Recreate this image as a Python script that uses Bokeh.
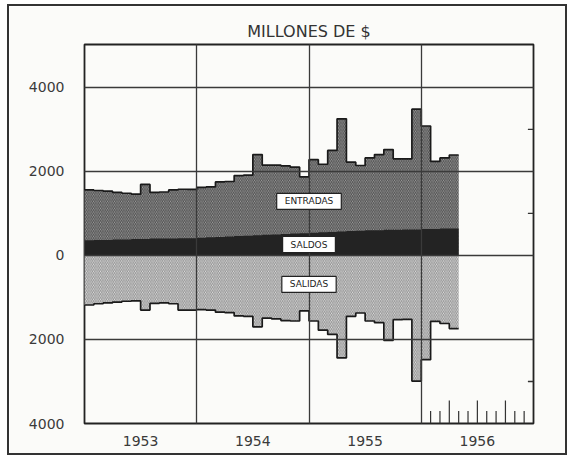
from bokeh.plotting import figure
from bokeh.models import FixedTicker, Label, Range1d
from bokeh.embed import file_html
from bokeh.resources import INLINE

# ---- data (millions of $, monthly Jan 1953 - Apr 1956) ----
start_year = 1953
entradas = [1560, 1545, 1530, 1500, 1480, 1460, 1690, 1500, 1510, 1560, 1575, 1570,
            1620, 1630, 1750, 1760, 1900, 1910, 2400, 2150, 2150, 2130, 2100, 1870,
            2280, 2170, 2500, 3250, 2220, 2140, 2320, 2400, 2520, 2300, 2300, 3480,
            3080, 2240, 2320, 2390]
salidas = [1180, 1150, 1130, 1110, 1090, 1080, 1300, 1140, 1130, 1150, 1300, 1300,
           1290, 1300, 1350, 1360, 1440, 1450, 1700, 1490, 1510, 1550, 1560, 1320,
           1560, 1780, 1880, 2440, 1450, 1370, 1560, 1600, 2020, 1530, 1520, 2990,
           2480, 1570, 1620, 1740]
saldos = [360, 370, 370, 380, 380, 390, 390, 400, 400, 400, 410, 410,
          420, 430, 440, 450, 460, 470, 480, 490, 500, 510, 520, 530,
          540, 550, 560, 570, 580, 590, 600, 600, 610, 610, 620, 620,
          630, 630, 640, 640]

year_ticks = [1953.5, 1954.5, 1955.5, 1956.5]
year_labels = ["1953", "1954", "1955", "1956"]
year_grid = [1954, 1955, 1956]
y_ticks = [-4000, -2000, 0, 2000, 4000]
y_tick_labels = ["4000", "2000", "0", "2000", "4000"]
y_grid = [-2000, 0, 2000, 4000]
right_marks = [3000, 1000, -3000]
bottom_mark_months = [1, 2, 3, 4, 5, 6, 7, 8, 9, 10, 11]
bottom_mark_len = [300, 300, 550, 300, 300, 550, 300, 300, 550, 300, 300]

series_labels = ["ENTRADAS", "SALDOS", "SALIDAS"]
label_y = [1285, 260, -690]

# ---- derived step coordinates ----
n = len(entradas)
x = [start_year + i / 12 for i in range(n + 1)]
ent = entradas + [entradas[-1]]
sal = [-v for v in salidas] + [-salidas[-1]]
sdo = saldos + [saldos[-1]]
zero = [0] * (n + 1)

bg = "#fbfbf9"
p = figure(frame_width=449, frame_height=379,
           min_border_left=75, min_border_right=32, min_border_top=38, min_border_bottom=30,
           output_backend="svg", toolbar_location=None,
           x_range=Range1d(1953, 1957), y_range=Range1d(-4000, 5020),
           background_fill_color=bg, border_fill_color=bg)
p.styles = {"border": "2px solid #333", "margin-left": "7px", "margin-top": "4px"}

p.title.text = "MILLONES DE $"
p.title.align = "center"
p.title.text_font = "DejaVu Sans"
p.title.text_font_size = "16px"
p.title.text_font_style = "normal"
p.title.text_color = "#333333"
p.title.standoff = 8

# areas
p.varea_step(x=x, y1=zero, y2=ent, step_mode="after", fill_color="#a4a4a4",
             hatch_pattern="\\", hatch_color="#4a4a4a", hatch_scale=3.5, hatch_weight=1.0)
p.varea_step(x=x, y1=sal, y2=zero, step_mode="after", fill_color="#e4e4e4",
             hatch_pattern="\\", hatch_color="#8e8e8e", hatch_scale=3.5, hatch_weight=1.0)
p.varea_step(x=x, y1=zero, y2=sdo, step_mode="after", fill_color="#232323")
p.step(x=x, y=ent, mode="after", line_color="#1a1a1a", line_width=1.7)
p.step(x=x, y=sal, mode="after", line_color="#1a1a1a", line_width=1.7)

# small marks
p.segment(x0=[1956.95] * len(right_marks), x1=[1957] * len(right_marks),
          y0=right_marks, y1=right_marks, line_color="#333", line_width=1.3)
bx = [1956 + m / 12 for m in bottom_mark_months]
p.segment(x0=bx, x1=bx, y0=[-4000] * len(bx), y1=[-4000 + h for h in bottom_mark_len],
          line_color="#333", line_width=1.2)

# labels
for t, yy in zip(series_labels, label_y):
    p.add_layout(Label(x=1955.0, y=yy, text=t, text_align="center", text_baseline="middle",
                       text_font="DejaVu Sans", text_font_size="9px", text_font_style="normal",
                       text_color="#222", background_fill_color="white",
                       border_line_color="#222", border_line_width=1.2, padding=(8, 3)))

# axes & grid
p.xaxis.ticker = FixedTicker(ticks=year_ticks)
p.xaxis.major_label_overrides = {k: v for k, v in zip(year_ticks, year_labels)}
p.yaxis.ticker = FixedTicker(ticks=y_ticks)
p.yaxis.major_label_overrides = {k: v for k, v in zip(y_ticks, y_tick_labels)}
for ax in (p.xaxis[0], p.yaxis[0]):
    ax.axis_line_color = None
    ax.major_tick_line_color = None
    ax.minor_tick_line_color = None
    ax.major_label_text_font = "DejaVu Sans"
    ax.major_label_text_font_size = "14px"
    ax.major_label_text_color = "#3a3a3a"
p.xaxis.major_label_standoff = 6
p.yaxis.major_label_standoff = 14

p.xgrid.ticker = FixedTicker(ticks=year_grid)
p.ygrid.ticker = FixedTicker(ticks=y_grid)
for g in (p.xgrid[0], p.ygrid[0]):
    g.grid_line_color = "#3a3a3a"
    g.grid_line_width = 1.3
    g.level = "guide"

p.outline_line_color = "#222"
p.outline_line_width = 1.8

open("out.html", "w").write(file_html(p, INLINE))
